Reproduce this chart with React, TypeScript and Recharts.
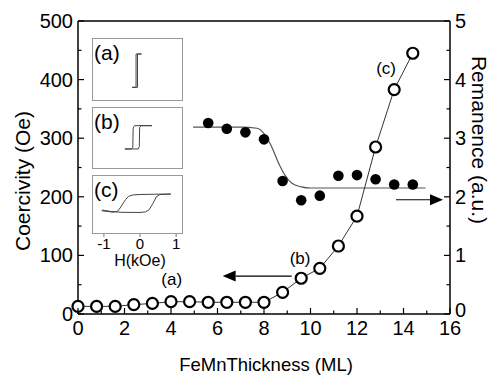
import React from 'react';
import {
  ComposedChart,
  LineChart,
  Line,
  Scatter,
  XAxis,
  YAxis,
  ReferenceLine,
  ReferenceDot,
} from 'recharts';

const FONT = '"Liberation Sans", Arial, Helvetica, sans-serif';

// coercivity vs FeMn thickness (open circles, left axis)
const thickness = [0, 0.8, 1.6, 2.4, 3.2, 4.0, 4.8, 5.6, 6.4, 7.2, 8.0, 8.8, 9.6, 10.4, 11.2, 12.0, 12.8, 13.6, 14.4];
const coercivity = [13, 13, 13, 16, 18, 21, 21, 20, 20, 20, 20, 37, 61, 78, 116, 167, 285, 383, 445];

// remanence (filled dots, right axis)
const remThickness = [5.6, 6.4, 7.2, 8.0, 8.8, 9.6, 10.4, 11.2, 12.0, 12.8, 13.6, 14.4];
const remanence = [3.26, 3.16, 3.1, 2.98, 2.27, 1.94, 2.02, 2.36, 2.37, 2.3, 2.21, 2.21];

// guide curve through the remanence points
const fitThickness = [4.95, 6.0, 7.0, 7.7, 8.0, 8.3, 8.6, 8.9, 9.2, 9.6, 10.0, 11.0, 14.95];
const fitRemanence = [3.19, 3.19, 3.19, 3.17, 3.08, 2.88, 2.6, 2.37, 2.23, 2.17, 2.15, 2.15, 2.15];

const xTicks = [0, 1, 2, 3, 4, 5, 6, 7, 8, 9, 10, 11, 12, 13, 14, 15, 16];
const coercivityTicks = [0, 50, 100, 150, 200, 250, 300, 350, 400, 450, 500];
const remanenceTicks = [0, 0.5, 1, 1.5, 2, 2.5, 3, 3.5, 4, 4.5, 5];
const insetTicks = [-1, 0, 1];

// inset hysteresis loops: H (kOe), normalised M
const loopAH = [0.04, -0.11, -0.11, -0.22, -0.07, -0.07, 0.04];
const loopAM = [1, 1, -1, -1, -1, 1, 1];
const loopBH = [0.33, -0.15, -0.19, -0.2, -0.24, -0.42, -0.05, -0.02, -0.01, 0.03, 0.33];
const loopBM = [1, 1, 0.8, -0.85, -1, -1, -1, -0.8, 0.85, 1, 1];
const loopCH = [0.85, 0.4, 0.0, -0.2, -0.32, -0.4, -0.47, -0.55, -0.62, -0.75, -1.05, -1.05, -0.8, -0.5, 0.0, 0.15, 0.25, 0.36, 0.45, 0.55, 0.85];
const loopCM = [1, 0.98, 0.95, 0.9, 0.75, 0.4, 0, -0.5, -0.85, -0.95, -0.8, -0.72, -0.88, -0.97, -0.98, -0.92, -0.7, 0, 0.7, 0.95, 1];

// annotations (data coordinates)
const leftArrow = { from: 9.19, to: 6.22, y: 64.7 };
const rightArrow = { from: 13.68, to: 15.7, y: 1.95 };

const zip = (xs: number[], ys: number[]) => xs.map((x, i) => ({ x, y: ys[i] }));
const zipLoop = (hs: number[], ms: number[]) => hs.map((h, i) => ({ h, m: ms[i] }));

const coercivityData = zip(thickness, coercivity);
const remanenceData = zip(remThickness, remanence);
const fitData = zip(fitThickness, fitRemanence);

const BottomTick = (props: any) => {
  const { x, y, payload } = props;
  const major = payload.value % 2 === 0;
  return (
    <g>
      <line x1={x} y1={y} x2={x} y2={y - (major ? 6 : 3.5)} stroke="#000" strokeWidth={1.2} />
      {major && (
        <text x={x} y={y + 20.5} textAnchor="middle" fontSize={20} fontFamily={FONT} fill="#000">
          {payload.value}
        </text>
      )}
    </g>
  );
};

const TopTick = (props: any) => {
  const { x, y, payload } = props;
  const major = payload.value % 2 === 0;
  return <line x1={x} y1={y} x2={x} y2={y + (major ? 5 : 3.5)} stroke="#000" strokeWidth={1.2} />;
};

const LeftTick = (props: any) => {
  const { x, y, payload } = props;
  const major = payload.value % 100 === 0;
  return (
    <g>
      <line x1={x} y1={y} x2={x + (major ? 6 : 3.5)} y2={y} stroke="#000" strokeWidth={1.2} />
      {major && (
        <text x={x - 5} y={y + 7} textAnchor="end" fontSize={20} fontFamily={FONT} fill="#000">
          {payload.value}
        </text>
      )}
    </g>
  );
};

const RightTick = (props: any) => {
  const { x, y, payload } = props;
  const major = Number.isInteger(payload.value);
  const lift = payload.value === 0 ? 4 : 0;
  return (
    <g>
      <line x1={x} y1={y} x2={x - (major ? 6 : 3.5)} y2={y} stroke="#000" strokeWidth={1.2} />
      {major && (
        <text x={x + 5} y={y + 7 - lift} textAnchor="start" fontSize={20} fontFamily={FONT} fill="#000">
          {payload.value}
        </text>
      )}
    </g>
  );
};

const InsetTick = (props: any) => {
  const { x, y, payload } = props;
  return (
    <g>
      <line x1={x} y1={y} x2={x} y2={y + 3} stroke="#777" strokeWidth={1} />
      <text x={x} y={y + 15} textAnchor="middle" fontSize={15} fontFamily={FONT} fill="#000">
        {payload.value}
      </text>
    </g>
  );
};

const Arrow = (props: any) => {
  const { x1, y1, x2, y2 } = props;
  const dir = Math.sign(x2 - x1);
  const head = 13;
  return (
    <g>
      <line x1={x1} y1={y1} x2={x2 - dir * head} y2={y2} stroke="#000" strokeWidth={1.2} />
      <polygon
        points={`${x2},${y2} ${x2 - dir * head},${y2 - 5.5} ${x2 - dir * head},${y2 + 5.5}`}
        fill="#000"
      />
    </g>
  );
};

const tag = (text: string) => (p: any) => (
  <text x={p.cx} y={p.cy + 6} textAnchor="middle" fontSize={17} fontFamily={FONT} fill="#000">
    {text}
  </text>
);

const Inset = ({ top, height, h, m, yDomain, label, withAxis }: any) => {
  const axisH = withAxis ? 36 : 0;
  return (
    <div style={{ position: 'absolute', left: 92, top, width: 91, height: height + axisH }}>
      <div
        style={{
          position: 'absolute', left: 0, top: 0, width: 91, height,
          border: '1px solid #999', boxSizing: 'border-box',
        }}
      />
      <div style={{ position: 'absolute', left: 2, top: 3, fontSize: 21, fontFamily: FONT, lineHeight: '24px' }}>
        {label}
      </div>
      <LineChart width={91} height={height + axisH} data={zipLoop(h, m)} margin={{ top: 0, right: 0, bottom: 0, left: 0 }}>
        <XAxis
          type="number"
          dataKey="h"
          domain={[-1.33, 1.19]}
          hide={!withAxis}
          height={axisH}
          ticks={insetTicks}
          interval={0}
          axisLine={false}
          tickLine={false}
          tickSize={0}
          tickMargin={0}
          tick={InsetTick}
          label={(lp: any) => (
            <text x={140 - 92} y={height + 32} textAnchor="middle" fontSize={16} fontFamily={FONT} fill="#000">
              H(kOe)
            </text>
          )}
        />
        <YAxis type="number" dataKey="m" domain={yDomain} hide />
        <Line type="linear" dataKey="m" stroke="#444" strokeWidth={1} dot={false} isAnimationActive={false} />
      </LineChart>
    </div>
  );
};

export default function App() {
  return (
    <div style={{ position: 'relative', width: 491, height: 377, background: '#fff', fontFamily: FONT }}>
      <style>{'body{margin:0}'}</style>
      <ComposedChart width={491} height={377} margin={{ top: 20, right: 0, bottom: 0, left: 0 }}>
        <XAxis
          xAxisId={0}
          type="number"
          dataKey="x"
          domain={[0, 16]}
          ticks={xTicks}
          interval={0}
          height={63}
          tickSize={0}
          tickMargin={0}
          tickLine={false}
          axisLine={{ stroke: '#000', strokeWidth: 1.5 }}
          tick={BottomTick}
          label={(lp: any) => (
            <text x={266} y={371} textAnchor="middle" fontSize={18.5} fontFamily={FONT} fill="#000">
              FeMnThickness (ML)
            </text>
          )}
        />
        <XAxis
          xAxisId="top"
          orientation="top"
          type="number"
          domain={[0, 16]}
          ticks={xTicks}
          interval={0}
          height={1}
          tickSize={0}
          tickMargin={0}
          tickLine={false}
          axisLine={{ stroke: '#000', strokeWidth: 1.5 }}
          tick={TopTick}
        />
        <YAxis
          yAxisId="left"
          type="number"
          dataKey="y"
          domain={[0, 500]}
          ticks={coercivityTicks}
          interval={0}
          width={78}
          tickSize={0}
          tickMargin={0}
          tickLine={false}
          axisLine={{ stroke: '#000', strokeWidth: 1.5 }}
          tick={LeftTick}
          label={(lp: any) => (
            <text
              x={22}
              y={181}
              transform="rotate(-90 22 181)"
              textAnchor="middle"
              dominantBaseline="central"
              fontSize={21}
              fontFamily={FONT}
              fill="#000"
            >
              Coercivity (Oe)
            </text>
          )}
        />
        <YAxis
          yAxisId="right"
          orientation="right"
          type="number"
          dataKey="y"
          domain={[0, 5]}
          ticks={remanenceTicks}
          interval={0}
          width={41}
          tickSize={0}
          tickMargin={0}
          tickLine={false}
          axisLine={{ stroke: '#000', strokeWidth: 1.5 }}
          tick={RightTick}
          label={(lp: any) => (
            <text
              x={479}
              y={140}
              transform="rotate(90 479 140)"
              textAnchor="middle"
              dominantBaseline="central"
              fontSize={21}
              fontFamily={FONT}
              fill="#000"
            >
              Remanence (a.u.)
            </text>
          )}
        />
        <Line
          data={fitData}
          xAxisId={0}
          yAxisId="right"
          dataKey="y"
          type="monotone"
          stroke="#555"
          strokeWidth={1.2}
          dot={false}
          isAnimationActive={false}
        />
        <Scatter
          data={remanenceData}
          xAxisId={0}
          yAxisId="right"
          dataKey="y"
          fill="#000"
          isAnimationActive={false}
          shape={(p: any) => <circle cx={p.cx} cy={p.cy} r={5.3} fill="#000" />}
        />
        <Line
          data={coercivityData}
          xAxisId={0}
          yAxisId="left"
          dataKey="y"
          type="linear"
          stroke="#333"
          strokeWidth={1}
          dot={{ r: 5.5, fill: '#fff', stroke: '#000', strokeWidth: 2.2 }}
          isAnimationActive={false}
        />
        <ReferenceLine
          xAxisId={0}
          yAxisId="left"
          segment={[{ x: leftArrow.from, y: leftArrow.y }, { x: leftArrow.to, y: leftArrow.y }]}
          shape={Arrow}
        />
        <ReferenceLine
          xAxisId={0}
          yAxisId="right"
          segment={[{ x: rightArrow.from, y: rightArrow.y }, { x: rightArrow.to, y: rightArrow.y }]}
          shape={Arrow}
        />
        <ReferenceDot xAxisId={0} yAxisId="left" x={4.03} y={59.6} shape={tag('(a)')} />
        <ReferenceDot xAxisId={0} yAxisId="left" x={9.55} y={95} shape={tag('(b)')} />
        <ReferenceDot xAxisId={0} yAxisId="left" x={13.25} y={419} shape={tag('(c)')} />
      </ComposedChart>
      <Inset top={38} height={63} h={loopAH} m={loopAM} yDomain={[-1.82, 1.96]} label="(a)" />
      <Inset top={107} height={62} h={loopBH} m={loopBM} yDomain={[-2.72, 2.6]} label="(b)" />
      <Inset top={175} height={59} h={loopCH} m={loopCM} yDomain={[-3.3, 3.05]} label="(c)" withAxis />
    </div>
  );
}
